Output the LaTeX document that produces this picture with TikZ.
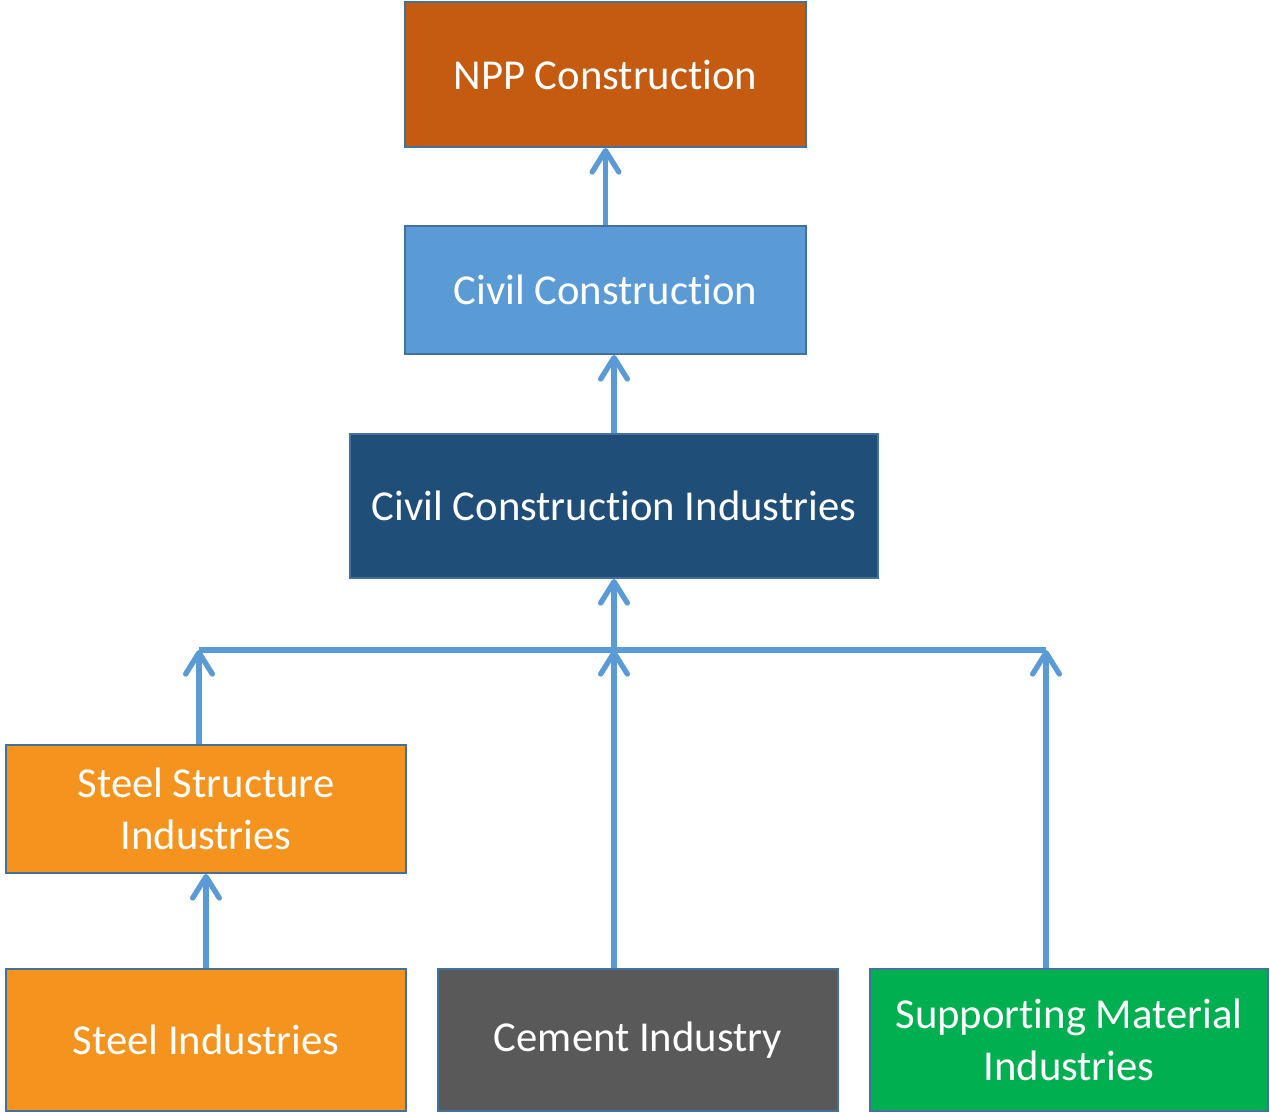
\documentclass[tikz,border=0pt]{standalone}
\usepackage{fontspec}
\setmainfont{Carlito}[Ligatures=NoCommon,RawFeature={-liga;-clig;-calt;-dlig}]
\usetikzlibrary{arrows.meta}

\definecolor{nppfill}{HTML}{C55A11}
\definecolor{civfill}{HTML}{5B9BD5}
\definecolor{indfill}{HTML}{1F4E79}
\definecolor{steelfill}{HTML}{F4931E}
\definecolor{cemfill}{HTML}{595959}
\definecolor{supfill}{HTML}{00B050}
\definecolor{boxline}{HTML}{41719C}
\definecolor{link}{HTML}{5B9BD5}

\begin{document}
\begin{tikzpicture}[x=0.75pt,y=-0.75pt,
    block/.style={draw=boxline,line width=1.5pt,text=white,align=center,
      inner sep=0pt,font=\fontsize{32}{39}\selectfont},
    up/.style={draw=link,line width=4pt,
      -{Straight Barb[length=16pt,width=20pt,line cap=round,line join=round]}}]
        \useasboundingbox (0,0) rectangle (1270,1113);
        \node[block,fill=nppfill,minimum width=401*0.75pt,minimum height=145*0.75pt]
          (npp) at (605.5,74.5) {NPP Construction};
        \node[block,fill=civfill,minimum width=401*0.75pt,minimum height=128*0.75pt]
          (civ) at (605.5,290) {Civil Construction};
        \node[block,fill=indfill,minimum width=528*0.75pt,minimum height=144*0.75pt]
          (cci) at (614,506) {Civil Construction Industries};
        \node[block,fill=steelfill,minimum width=400*0.75pt,minimum height=128*0.75pt]
          (ssi) at (206,809) {Steel Structure\\Industries};
        \node[block,fill=steelfill,minimum width=400*0.75pt,minimum height=142*0.75pt]
          (steel) at (206,1040) {Steel Industries};
        \node[block,fill=cemfill,minimum width=400*0.75pt,minimum height=142*0.75pt]
          (cem) at (638,1040) {Cement Industry};
        \node[block,fill=supfill,minimum width=398*0.75pt,minimum height=142*0.75pt]
          (sup) at (1069,1040) {Supporting Material\\Industries};
        % junction line
        \coordinate (jl) at (199,650);
        \coordinate (jm) at (614,650);
        \coordinate (jr) at (1046,650);
        \draw[draw=link,line width=4pt] (jl) -- (jr);
        \draw[up] (civ.north) -- (npp.south);
        \draw[up] (cci.north) -- (cci.north |- civ.south);
        \draw[up] (jm) -- (cci.south);
        \draw[up] (jl |- ssi.north) -- (jl);
        \draw[up] (jm |- cem.north) -- (jm);
        \draw[up] (jr |- sup.north) -- (jr);
        \draw[up] (steel.north) -- (ssi.south);
\end{tikzpicture}
\end{document}
